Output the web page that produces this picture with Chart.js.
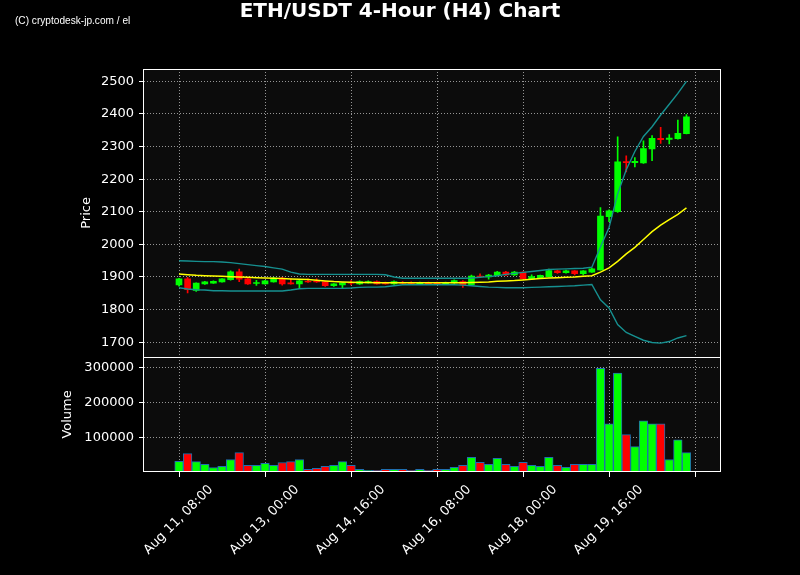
<!DOCTYPE html>
<html>
<head>
<meta charset="utf-8">
<script src="https://cdn.jsdelivr.net/npm/chart.js@4.4.0/dist/chart.umd.min.js"></script>
<style>
  html, body { margin: 0; background: #000; }
  #wrap { position: relative; width: 800px; height: 575px; }
  canvas { position: absolute; left: 0; top: 0; }
  #title { position: absolute; left: 0; top: -2px; width: 800px; text-align: center; color: #fff; font: bold 20px "DejaVu Sans"; }
  #mark { position: absolute; left: 15px; top: 14px; color: #fff; font: 11px "Liberation Sans"; transform: scaleX(0.92); transform-origin: left top; }
</style>
</head>
<body>
<div id="wrap">
  <canvas id="chart" width="800" height="575"></canvas>
  <div id="title">ETH/USDT 4-Hour (H4) Chart</div>
  <div id="mark">(C) cryptodesk-jp.com / el</div>
</div>
<script>
// 4h candles, Aug 11 08:00 onwards (index = candle number)
const opens = [1876,1894,1859,1879,1881,1885,1892,1916,1894,1880, 1879,1885,1897,1882,1879,1887,1887,1885,1873,1876,
  1883,1879,1882,1886,1882,1879,1883,1882,1879,1882, 1882,1879,1882,1886,1876,1903,1900,1904,1915,1906,
  1915,1894,1897,1901,1919,1913,1919,1910,1915,1922, 2085,2100,2254,2251,2250,2293,2325,2322,2324,2340];
const highs = [1896,1899,1882,1887,1888,1895,1919,1924,1896,1890, 1890,1899,1899,1894,1890,1894,1894,1887,1880,1883,
  1889,1888,1888,1888,1884,1888,1886,1885,1884,1884, 1884,1884,1891,1889,1906,1910,1908,1917,1917,1917,
  1916,1907,1906,1924,1921,1921,1920,1920,1927,2113, 2106,2330,2272,2266,2318,2334,2359,2337,2381,2398];
const lows = [1872,1851,1856,1877,1880,1884,1890,1886,1877,1874, 1878,1884,1875,1878,1864,1883,1883,1871,1871,1865,
  1876,1877,1881,1878,1878,1877,1880,1879,1878,1878, 1878,1878,1880,1868,1874,1898,1893,1903,1904,1905,
  1893,1893,1896,1900,1911,1912,1906,1906,1914,1921, 2070,2098,2222,2238,2248,2257,2310,2308,2323,2339];
const closes = [1894,1861,1881,1885,1887,1894,1916,1893,1879,1883, 1888,1897,1879,1879,1888,1885,1885,1873,1879,1882,
  1881,1886,1886,1879,1879,1886,1881,1880,1882,1879, 1879,1882,1889,1876,1903,1901,1906,1915,1906,1915,
  1895,1901,1905,1920,1913,1919,1910,1919,1925,2087, 2103,2253,2251,2255,2294,2325,2321,2326,2341,2391];
const volumes = [30500,53000,30000,22000,13000,16000,36000,56000,19000,19000, 25000,19000,27500,30000,36000,7600,10500,16000,19000,30000,
  19000,7600,5000,5000,7600,7600,7600,5000,7600,5000, 7700,7700,13500,19200,42300,27900,22100,39400,22100,16300,
  27900,19200,16300,42300,19200,13500,22100,22100,22100,299000, 139000,285000,107600,73000,147600,139000,139000,36000,93000,56000];

// bollinger bands (20)
const middle = [1909,1907,1905,1904,1903,1902,1901,1900,1899,1898, 1897,1896,1895,1894,1893,1892,1890,1888,1886,1885,
  1884,1883,1883,1882,1882,1882,1882,1882,1882,1882, 1882,1882,1882,1882,1883,1884,1885,1887,1888,1889,
  1891,1893,1895,1897,1898,1899,1900,1902,1904,1915, 1928,1948,1971,1991,2015,2039,2059,2076,2092,2112];
const upper = [1950,1949,1948,1947,1947,1946,1944,1941,1938,1935, 1932,1928,1924,1915,1909,1908,1908,1908,1908,1908,
  1908,1908,1908,1908,1907,1900,1896,1896,1896,1896, 1896,1896,1896,1896,1897,1899,1901,1904,1908,1911,
  1914,1917,1920,1923,1924,1925,1926,1927,1930,1992, 2052,2155,2229,2285,2331,2361,2397,2430,2463,2500];
const lower = [1867,1863,1861,1860,1858,1858,1857,1857,1857,1857, 1857,1857,1857,1860,1864,1865,1865,1865,1865,1865,
  1866,1868,1869,1869,1870,1873,1876,1876,1876,1876, 1876,1876,1876,1875,1873,1871,1869,1868,1867,1867,
  1867,1868,1869,1870,1871,1872,1873,1875,1877,1830, 1805,1754,1730,1718,1706,1699,1697,1702,1713,1720];

const xTickPos = [0, 10, 20, 30, 40, 50, 60];
const xTickLabels = ["Aug 11, 08:00", "Aug 13, 00:00", "Aug 14, 16:00", "Aug 16, 08:00", "Aug 18, 00:00", "Aug 19, 16:00", ""];
const priceTicks = [1700, 1800, 1900, 2000, 2100, 2200, 2300, 2400, 2500];
const volumeTicks = [100000, 200000, 300000];

const idx = opens.map((_, i) => i);
const colors = idx.map(i => closes[i] >= opens[i] ? "#00ff00" : "#ff0000");
const FONT = { family: "DejaVu Sans", size: 13 };
const GRID = "rgba(175,175,175,0.85)";

// dark axes background + white frame with one divider between the panes
const panels = {
  id: "panels",
  beforeDraw(chart) {
    const { ctx, chartArea: a } = chart;
    ctx.save();
    ctx.fillStyle = "#0c0c0c";
    ctx.fillRect(a.left, a.top, a.right - a.left, a.bottom - a.top);
    ctx.restore();
  },
  afterDraw(chart) {
    const { ctx, chartArea: a } = chart;
    const L = Math.round(a.left) - 0.5, R = Math.round(a.right) + 0.5;
    const T = Math.round(a.top) + 0.5, B = Math.round(a.bottom) - 0.5;
    const mid = Math.round(chart.scales.yPrice.bottom) + 0.5;
    ctx.save();
    ctx.strokeStyle = "#fff";
    ctx.lineWidth = 1;
    ctx.strokeRect(L, T, R - L, B - T);
    ctx.beginPath();
    ctx.moveTo(L, mid);
    ctx.lineTo(R, mid);
    ctx.stroke();
    ctx.restore();
  }
};

const line = (vals, color, width) => ({
  type: "line", yAxisID: "yPrice", order: 0,
  data: idx.map(i => ({ x: i, y: vals[i] })),
  borderColor: color, borderWidth: width, pointRadius: 0, tension: 0
});

new Chart(document.getElementById("chart"), {
  type: "bar",
  data: {
    datasets: [
      line(middle, "#ffff00", 1.5),
      line(upper, "#169090", 1.4),
      line(lower, "#169090", 1.4),
      {
        yAxisID: "yPrice", order: 1, grouped: false, barThickness: 6,
        data: idx.map(i => ({ x: i, y: [opens[i], closes[i]] })),
        backgroundColor: colors
      },
      {
        yAxisID: "yPrice", order: 2, grouped: false, barThickness: 1,
        data: idx.map(i => ({ x: i, y: [lows[i], highs[i]] })),
        backgroundColor: colors
      },
      {
        yAxisID: "yVol", order: 3, grouped: false, barThickness: 8.6,
        data: idx.map(i => ({ x: i, y: volumes[i] })),
        backgroundColor: colors, borderColor: "#1f6fb0", borderWidth: 1, borderSkipped: false
      }
    ]
  },
  options: {
    responsive: false,
    animation: false,
    layout: { padding: { top: 69, right: 80, left: 0, bottom: 0 } },
    plugins: { legend: { display: false }, tooltip: { enabled: false } },
    scales: {
      x: {
        type: "linear", min: -4.07, max: 62.9, offset: false,
        afterBuildTicks: s => { s.ticks = xTickPos.map(v => ({ value: v })); },
        afterFit: s => { s.height = 103; },
        ticks: {
          color: "#fff", font: FONT, autoSkip: false, minRotation: 45, maxRotation: 45,
          labelOffset: 32, padding: 5,
          callback: (v, i) => xTickLabels[i]
        },
        grid: { offset: false, color: GRID, tickColor: "#fff", tickLength: 5 },
        border: { display: false, dash: [1, 2] }
      },
      yVol: {
        type: "linear", position: "left", stack: "panes", stackWeight: 2,
        min: 0, max: 332000,
        afterBuildTicks: s => { s.ticks = volumeTicks.map(v => ({ value: v })); },
        afterFit: s => { s.width = 144; },
        ticks: { color: "#fff", font: FONT, padding: 5, callback: v => String(v) },
        grid: { color: GRID, tickColor: "#fff", tickLength: 5 },
        border: { display: false, dash: [1, 2] },
        title: { display: true, text: "Volume", color: "#fff", font: FONT, padding: { top: 60, bottom: 0 } }
      },
      yPrice: {
        type: "linear", position: "left", stack: "panes", stackWeight: 5,
        min: 1655, max: 2538,
        afterBuildTicks: s => { s.ticks = priceTicks.map(v => ({ value: v })); },
        afterFit: s => { s.width = 144; },
        ticks: { color: "#fff", font: FONT, padding: 5, callback: v => String(v) },
        grid: { color: GRID, tickColor: "#fff", tickLength: 5 },
        border: { display: false, dash: [1, 2] },
        title: { display: true, text: "Price", color: "#fff", font: FONT, padding: { top: 79, bottom: 0 } }
      }
    }
  },
  plugins: [panels]
});
</script>
</body>
</html>
